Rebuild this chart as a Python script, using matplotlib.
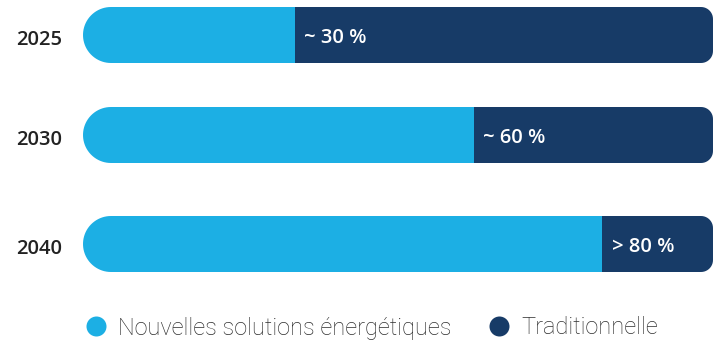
import numpy as np
import matplotlib
matplotlib.use("Agg")
import matplotlib.pyplot as plt
from matplotlib.path import Path
from matplotlib.patches import PathPatch
from matplotlib.lines import Line2D
from matplotlib.transforms import Affine2D, ScaledTranslation

# data (share of the bar, %)
years = ["2025", "2030", "2040"]
nouvelles = [33.6, 62.0, 82.4]
traditionnelle = [66.4, 38.0, 17.6]
labels = ["~ 30 %", "~ 60 %", "> 80 %"]
series_names = ["Nouvelles solutions énergétiques", "Traditionnelle"]

# layout (pixels)
W, H, DPI = 713, 345, 100
bar_left, bar_right = 83, 713
centers = [35, 135, 244]
bar_h = 56
r_right = 12

c_new = "#1cafe4"
c_trad = "#173b67"

fig = plt.figure(figsize=(W / DPI, H / DPI), dpi=DPI)
ax = fig.add_axes([bar_left / W, 0, (bar_right - bar_left) / W, 1])
ax.set_xlim(0, 100)
ax.set_ylim(H, 0)
for s in ax.spines.values():
    s.set_visible(False)
ax.set_xticks([])

# pixel coords (origin top-left) -> display
px = Affine2D().scale(1 / DPI, -1 / DPI).translate(0, H / DPI) + fig.dpi_scale_trans


def pill(c):
    # outline of one bar: round left end, small corners on the right
    r = bar_h / 2
    rr = r_right
    y0, y1 = c - r, c + r
    t = np.linspace(0, np.pi / 2, 12)
    cx = bar_right - rr
    top_right = np.column_stack([cx + rr * np.sin(t), y0 + rr - rr * np.cos(t)])
    bot_right = np.column_stack([cx + rr * np.cos(t), y1 - rr + rr * np.sin(t)])
    s = np.linspace(0, np.pi, 40)
    lx = bar_left + r
    left = np.column_stack([lx - r * np.sin(s), c + r * np.cos(s)])
    return np.vstack([[lx, y0], top_right, bot_right, left])


bars1 = ax.barh(centers, nouvelles, left=0, height=bar_h, color=c_new, linewidth=0)
bars2 = ax.barh(centers, traditionnelle, left=nouvelles, height=bar_h, color=c_trad, linewidth=0)

for i, c in enumerate(centers):
    clip = PathPatch(Path(pill(c)), transform=px, facecolor="none", edgecolor="none")
    fig.add_artist(clip)
    bars1[i].set_clip_path(clip)
    bars2[i].set_clip_path(clip)
    ax.annotate(labels[i], xy=(nouvelles[i], c), xytext=(7, -2), textcoords="offset points",
                ha="left", va="center", color="white", fontsize=14.5,
                family="Open Sans", fontweight="semibold")

ax.set_yticks(centers, labels=years)
ax.tick_params(axis="y", length=0, pad=15)
shift = ScaledTranslation(0, -2 / 72, fig.dpi_scale_trans)
for t in ax.get_yticklabels():
    t.set_family("Open Sans")
    t.set_fontweight("semibold")
    t.set_fontsize(14.5)
    t.set_color("#222222")
    t.set_transform(t.get_transform() + shift)

handles = [Line2D([], [], marker="o", linestyle="none", markersize=14.4,
                  markerfacecolor=col, markeredgewidth=0) for col in (c_new, c_trad)]
leg = fig.legend(handles, series_names, loc="center left", bbox_to_anchor=(84 / W, 1 - 328 / H),
                 ncol=2, frameon=False, handlelength=1, handletextpad=0.45,
                 columnspacing=1.5, borderpad=0, borderaxespad=0,
                 prop={"family": "Roboto", "weight": "light", "size": 17})
for t in leg.get_texts():
    t.set_color("#2e2e2e")

fig.savefig("out.png", dpi=DPI)
